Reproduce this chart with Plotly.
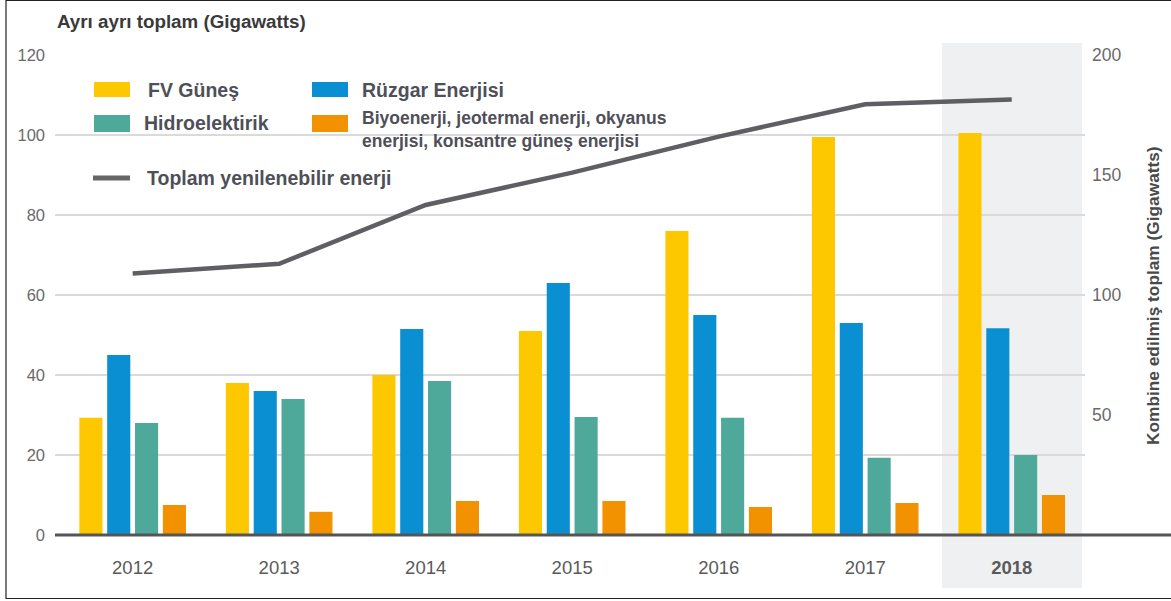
import plotly.graph_objects as go

years = ["2012", "2013", "2014", "2015", "2016", "2017", "2018"]
year_labels = ["2012", "2013", "2014", "2015", "2016", "2017", "<b>2018</b>"]
fv_gunes = [29.3, 38.0, 40.0, 51.0, 76.0, 99.5, 100.5]
ruzgar = [45.0, 36.0, 51.5, 63.0, 55.0, 53.0, 51.7]
hidro = [28.0, 34.0, 38.5, 29.5, 29.3, 19.3, 20.0]
biyo = [7.5, 5.8, 8.5, 8.5, 7.0, 8.0, 10.0]
toplam = [109.0, 113.0, 137.5, 151.0, 166.0, 179.5, 181.5]

names = ["FV Güneş", "Rüzgar Enerjisi", "Hidroelektirik",
         "Biyoenerji, jeotermal enerji, okyanus enerjisi, konsantre güneş enerjisi",
         "Toplam yenilenebilir enerji"]
colors = ["#FDC800", "#0A90D2", "#4EA99A", "#F39200"]
line_color = "#5E5E63"

W, H = 1171, 601
L, R, T, B = 55, 1085, 55, 535

def px(x):
    return (x - L) / (R - L)

def py(y):
    return (B - y) / (B - T)

fig = go.Figure()
for vals, name, col in zip([fv_gunes, ruzgar, hidro, biyo], names[:4], colors):
    fig.add_trace(go.Bar(x=years, y=vals, name=name, marker=dict(color=col, line=dict(width=0)),
                         showlegend=False))
fig.add_trace(go.Scatter(x=years, y=toplam, name=names[4], yaxis="y2", mode="lines",
                         line=dict(color=line_color, width=4.5), showlegend=False))

font = "Liberation Sans, Arial, sans-serif"
txt = "#4F4F58"
shapes = []
annotations = []

# highlighted 2018 column
shapes.append(dict(type="rect", xref="paper", yref="paper", x0=px(942), x1=px(1082), y0=py(588), y1=py(43),
                   fillcolor="#EFF0F2", line=dict(width=0), layer="below"))
# white legend box over grid
shapes.append(dict(type="rect", xref="paper", yref="paper", x0=px(76), x1=px(690), y0=py(196), y1=py(66),
                   fillcolor="white", line=dict(width=0), layer="between"))
# baseline
shapes.append(dict(type="line", xref="paper", yref="paper", x0=0, x1=px(1171), y0=0, y1=0,
                   line=dict(color="#555555", width=3), layer="above"))
# outer border
shapes.append(dict(type="rect", xref="paper", yref="paper", x0=px(6), x1=px(1180), y0=py(598.5), y1=py(0.5),
                   line=dict(color="#222222", width=1.2), fillcolor="rgba(0,0,0,0)", layer="above"))

# manual legend
swatches = [(94, 82, 130, 97, colors[0]), (312, 82, 348, 97, colors[1]),
            (94, 115, 130, 132, colors[2]), (312, 115, 348, 132, colors[3])]
for x0, y0, x1, y1, c in swatches:
    shapes.append(dict(type="rect", xref="paper", yref="paper", x0=px(x0), x1=px(x1), y0=py(y1), y1=py(y0),
                       fillcolor=c, line=dict(width=0), layer="above"))
shapes.append(dict(type="line", xref="paper", yref="paper", x0=px(93), x1=px(130), y0=py(178), y1=py(178),
                   line=dict(color="#666666", width=5), layer="above"))

def ann(x, y, text, size, color=txt, bold=True, anchor="left", angle=0):
    annotations.append(dict(xref="paper", yref="paper", x=px(x), y=py(y), text=f"<b>{text}</b>" if bold else text,
                            showarrow=False, xanchor=anchor, yanchor="middle", textangle=angle, align="left",
                            font=dict(family=font, size=size, color=color)))

ann(146, 90, names[0], 19.5)
ann(360, 90, names[1], 19.5)
ann(142, 123, names[2], 19.5)
ann(360, 129, "Biyoenerji, jeotermal enerji, okyanus<br>enerjisi, konsantre güneş enerjisi", 17.5)
ann(145, 178, names[4], 19.5)
ann(55, 22, "Ayrı ayrı toplam (Gigawatts)", 18.8, color="#3A3A3A")
ann(1153, 296, "Kombine edilmiş toplam (Gigawatts)", 17.3, color="#4A4A4A", anchor="center", angle=-90)

fig.update_layout(
    width=W, height=H,
    margin=dict(l=L, r=W - R, t=T, b=H - B, pad=0),
    paper_bgcolor="white", plot_bgcolor="rgba(0,0,0,0)",
    barmode="group", bargap=0.24, bargroupgap=0.17,
    showlegend=False,
    xaxis=dict(range=[-0.53, 6.5], tickmode="array", tickvals=years, ticktext=year_labels,
               showgrid=False, zeroline=False, showline=False, ticks="",
               tickfont=dict(family=font, size=18.5, color="#5A5A5A"), ticklabelstandoff=19),
    yaxis=dict(range=[0, 120], tickvals=[0, 20, 40, 60, 80, 100, 120], showgrid=True,
               gridcolor="#DADADA", gridwidth=1.5, zeroline=False, showline=False, ticks="",
               tickfont=dict(family=font, size=16.5, color="#6A6A6A"), ticklabelstandoff=9),
    yaxis2=dict(range=[0, 200], overlaying="y", side="right", tickvals=[50, 100, 150, 200],
                showgrid=False, zeroline=False, showline=False, ticks="",
                tickfont=dict(family=font, size=17.5, color="#6A6A6A"), ticklabelstandoff=6),
    shapes=shapes, annotations=annotations,
)

fig.write_html("out.html")
